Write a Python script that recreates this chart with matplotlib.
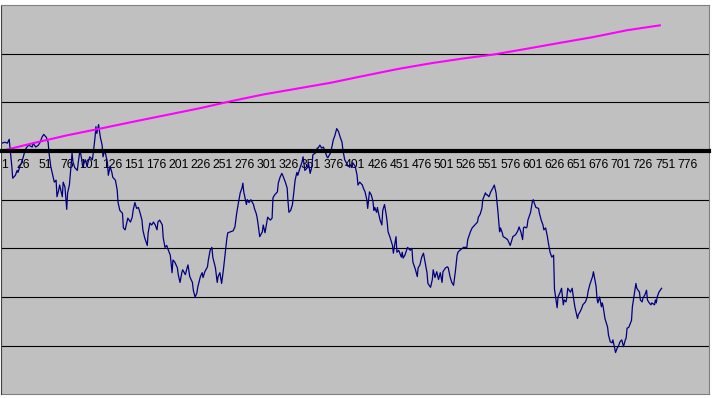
import matplotlib
matplotlib.use('Agg')
import matplotlib.pyplot as plt

# category positions and values (blue series)
blue_cat = [
    2, 5, 8, 10, 11, 13, 14, 17, 19, 20,
    22, 24, 26, 28, 30, 32, 36, 37, 40, 43,
    45, 47, 49, 52, 54, 55, 57, 60, 61, 63,
    64, 66, 67, 70, 71, 73, 75, 76, 78, 80,
    81, 82, 84, 87, 88, 90, 92, 93, 96, 98,
    99, 101, 104, 105, 107, 108, 109, 111, 113, 115,
    116, 118, 121, 122, 124, 126, 127, 130, 132, 133,
    135, 138, 139, 141, 143, 144, 147, 149, 150, 152,
    154, 156, 158, 160, 161, 163, 166, 167, 169, 171,
    173, 175, 177, 178, 180, 183, 184, 186, 188, 189,
    192, 194, 195, 197, 200, 201, 203, 205, 206, 209,
    211, 212, 214, 217, 218, 220, 222, 223, 226, 228,
    229, 231, 234, 235, 237, 239, 240, 243, 245, 246,
    248, 250, 252, 254, 256, 257, 260, 263, 265, 267,
    269, 271, 273, 274, 275, 278, 279, 281, 283, 286,
    287, 289, 290, 291, 293, 296, 297, 299, 301, 302,
    305, 307, 308, 310, 313, 314, 316, 318, 319, 322,
    324, 325, 326, 328, 330, 331, 333, 335, 336, 339,
    341, 342, 344, 347, 348, 350, 352, 353, 356, 358,
    359, 361, 363, 365, 367, 369, 370, 373, 375, 376,
    378, 380, 382, 384, 386, 387, 389, 392, 393, 395,
    397, 398, 401, 403, 404, 406, 409, 410, 412, 414,
    415, 417, 419, 421, 422, 423, 425, 426, 427, 429,
    431, 432, 434, 436, 437, 438, 440, 443, 444, 445,
    447, 448, 450, 453, 454, 455, 457, 460, 461, 463,
    465, 466, 469, 471, 472, 474, 476, 478, 480, 482,
    483, 486, 488, 489, 491, 493, 495, 497, 499, 500,
    503, 505, 506, 508, 510, 512, 514, 516, 517, 519,
    522, 523, 527, 528, 531, 533, 534, 536, 539, 540,
    542, 544, 545, 548, 549, 550, 552, 554, 557, 558,
    560, 561, 562, 564, 565, 567, 568, 570, 573, 574,
    576, 578, 579, 582, 584, 585, 586, 588, 590, 591,
    592, 594, 595, 596, 599, 601, 602, 603, 605, 608,
    609, 611, 613, 614, 616, 618, 619, 621, 623, 625,
    626, 628, 629, 630, 632, 634, 636, 637, 639, 640,
    641, 644, 646, 647, 649, 652, 653, 655, 657, 658,
    661, 663, 664, 666, 669, 670, 671, 673, 674, 675,
    677, 679, 680, 681, 683, 686, 687, 689, 691, 692,
    695, 697, 698, 700, 702, 704, 706, 707, 708, 710,
    713, 714, 716, 718, 719, 722, 723, 725, 726, 728,
    730, 731, 733, 735, 736, 739, 740, 741, 742, 744, 747,
]
blue_val = [
    8, 9, 8, 12, 3, -16, -28, -25, -20, -22,
    -16, -12, -6, 1, 4, 6, 4, 8, 4, 6,
    9, 14, 17, 14, 9, -2, -16, -28, -32, -30,
    -47, -40, -35, -47, -32, -37, -60, -43, -35, -14,
    -2, -11, -17, -20, -12, 1, -9, -16, -9, -16,
    -12, -6, -9, -2, 14, 25, 18, 27, 14, 6,
    -6, 1, -12, -25, -16, -22, -27, -30, -40, -53,
    -61, -64, -79, -81, -73, -69, -73, -68, -61, -53,
    -59, -58, -64, -71, -81, -89, -97, -84, -74, -76,
    -73, -76, -81, -73, -71, -76, -89, -99, -97, -100,
    -107, -125, -112, -114, -120, -127, -135, -125, -122, -127,
    -120, -117, -129, -135, -143, -150, -146, -140, -129, -125,
    -130, -124, -119, -112, -102, -99, -109, -120, -135, -129,
    -125, -136, -122, -105, -89, -84, -83, -82, -78, -64,
    -53, -43, -38, -33, -42, -55, -50, -53, -50, -55,
    -59, -64, -68, -74, -88, -83, -76, -84, -73, -68,
    -71, -69, -48, -45, -42, -33, -27, -23, -25, -32,
    -38, -52, -63, -61, -55, -47, -30, -22, -25, -16,
    -11, -6, -20, -17, -12, -23, -16, -4, -2, 3,
    3, 6, 3, 4, -1, -6, -7, -2, 6, 11,
    16, 23, 20, 14, 9, 1, -9, -14, -16, -14,
    -17, -12, -16, -25, -35, -32, -35, -38, -42, -50,
    -59, -42, -45, -52, -61, -58, -63, -58, -63, -71,
    -76, -61, -55, -66, -73, -83, -88, -97, -105, -99,
    -88, -104, -102, -109, -104, -110, -107, -99, -100, -102,
    -100, -114, -122, -129, -120, -117, -109, -105, -115, -125,
    -136, -140, -132, -122, -130, -124, -132, -125, -135, -124,
    -120, -119, -120, -129, -135, -138, -124, -107, -104, -102,
    -100, -99, -99, -91, -83, -79, -78, -76, -73, -68,
    -65, -59, -50, -43, -45, -45, -47, -42, -37, -35,
    -43, -52, -61, -83, -79, -84, -88, -89, -91, -93,
    -97, -91, -88, -86, -83, -81, -78, -83, -91, -79,
    -78, -79, -78, -71, -63, -52, -50, -53, -58, -59,
    -64, -71, -76, -81, -79, -88, -94, -104, -109, -107,
    -142, -155, -161, -150, -146, -141, -158, -153, -155, -150,
    -141, -145, -141, -148, -160, -172, -168, -165, -161, -158,
    -155, -150, -144, -137, -129, -124, -129, -139, -151, -156,
    -150, -160, -156, -160, -172, -181, -189, -196, -197, -194,
    -207, -202, -201, -196, -194, -201, -194, -192, -182, -181,
    -174, -160, -148, -136, -141, -145, -153, -155, -151, -148,
    -143, -153, -156, -158, -156, -158, -153, -156, -150, -145, -141,
]

# magenta series
pink_cat = [1, 37, 75, 113, 150, 188, 226, 260, 297, 335, 373,
            410, 448, 486, 523, 557, 595, 632, 670, 708, 745]
pink_val = [0, 8, 16, 23, 30, 37, 44, 51, 58, 64, 70,
            77, 84, 90, 95, 99, 105, 111, 117, 124, 129]

n_categories = 800
tick_cats = list(range(1, n_categories + 1, 25))
grid_levels = [-200, -150, -100, -50, 50, 100]

plt.rcParams['font.family'] = ['Liberation Sans', 'DejaVu Sans']

fig = plt.figure(figsize=(7.12, 3.98), dpi=100, facecolor='white')
ax = fig.add_axes([0.0017, 0.009, 0.9934, 0.9787])
ax.set_facecolor('#C0C0C0')

ax.plot(blue_cat, blue_val, color='#000080', linewidth=0.9, zorder=2)
ax.plot(pink_cat, pink_val, color='#FF00FF', linewidth=1.5, zorder=2.1)

ax.set_xlim(1, n_categories)
ax.set_ylim(-250, 150)

# horizontal gridlines
ax.set_yticks(grid_levels)
ax.yaxis.grid(True, color='black', linewidth=0.8)
ax.tick_params(axis='y', length=0, labelleft=False)

# category axis crossing at zero
ax.spines['bottom'].set_position(('data', 0))
ax.spines['bottom'].set_linewidth(3)
ax.spines['bottom'].set_color('black')
ax.spines['bottom'].set_zorder(3)
ax.set_xticks(tick_cats)
ax.set_xticklabels([str(c) for c in tick_cats], fontsize=8.7)
ax.tick_params(axis='x', length=0, pad=6, labelcolor='black')
ax.get_xticklabels()[0].set_horizontalalignment('left')

for side in ['top', 'right']:
    ax.spines[side].set_color('#808080')
    ax.spines[side].set_linewidth(0.8)
ax.spines['left'].set_color('#404040')
ax.spines['left'].set_linewidth(0.8)
ax.plot([0, 1], [0, 0], transform=ax.transAxes, color='#808080',
        linewidth=0.8, clip_on=False)

fig.savefig('out.png', dpi=100)
